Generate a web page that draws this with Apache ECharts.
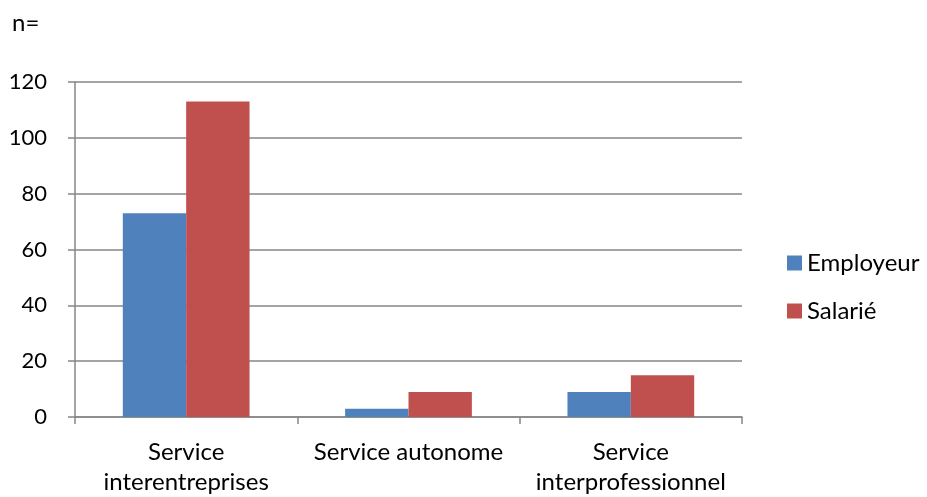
<!DOCTYPE html>
<html><head><meta charset="utf-8">
<script src="https://cdn.jsdelivr.net/npm/echarts@6/dist/echarts.min.js"></script>
<style>html,body{margin:0;padding:0;background:#fff}#c{width:927px;height:497px}</style>
</head><body><div id="c"></div>
<script>
const categories = ['Service\ninterentreprises', 'Service autonome', 'Service\ninterprofessionnel'];
const employeur = [73, 3, 9];
const salarie = [113, 9, 15];
const yTicks = [0, 20, 40, 60, 80, 100, 120];
const FONT = 'Lato';
const chart = echarts.init(document.getElementById('c'));
chart.setOption({
  animation: false,
  backgroundColor: '#fff',
  title: { text: 'n=', left: 7, top: 6, textStyle: { fontFamily: FONT, fontSize: 24, fontWeight: 'normal', color: '#000' } },
  grid: { left: 75, right: 185, top: 82, bottom: 80, containLabel: false },
  legend: {
    orient: 'vertical', left: 782, top: 246, itemWidth: 15, itemHeight: 15, itemGap: 24,
    icon: 'rect',
    textStyle: { fontFamily: FONT, fontSize: 24, color: '#000' },
    data: ['Employeur', 'Salarié']
  },
  xAxis: {
    type: 'category', data: categories,
    axisLine: { lineStyle: { color: '#868686', width: 1.5 } },
    axisTick: { show: true, length: 7, lineStyle: { color: '#868686', width: 1.5 } },
    axisLabel: { fontFamily: FONT, fontSize: 24, color: '#000', lineHeight: 30, margin: 20, interval: 0 }
  },
  yAxis: {
    type: 'value', min: 0, max: 120, interval: 20,
    axisLine: { show: true, lineStyle: { color: '#868686', width: 1.5 } },
    axisTick: { show: true, length: 7, lineStyle: { color: '#868686', width: 1.5 } },
    splitLine: { lineStyle: { color: '#868686', width: 1.5 } },
    axisLabel: { fontFamily: FONT, fontSize: 22, color: '#000', margin: 28,
      formatter: v => yTicks.includes(v) ? String(v) : '' }
  },
  series: [
    { name: 'Employeur', type: 'bar', data: employeur, barGap: '0%', barCategoryGap: '43%', itemStyle: { color: '#4F81BD' } },
    { name: 'Salarié', type: 'bar', data: salarie, barGap: '0%', barCategoryGap: '43%', itemStyle: { color: '#C0504D' } }
  ]
});
</script></body></html>
